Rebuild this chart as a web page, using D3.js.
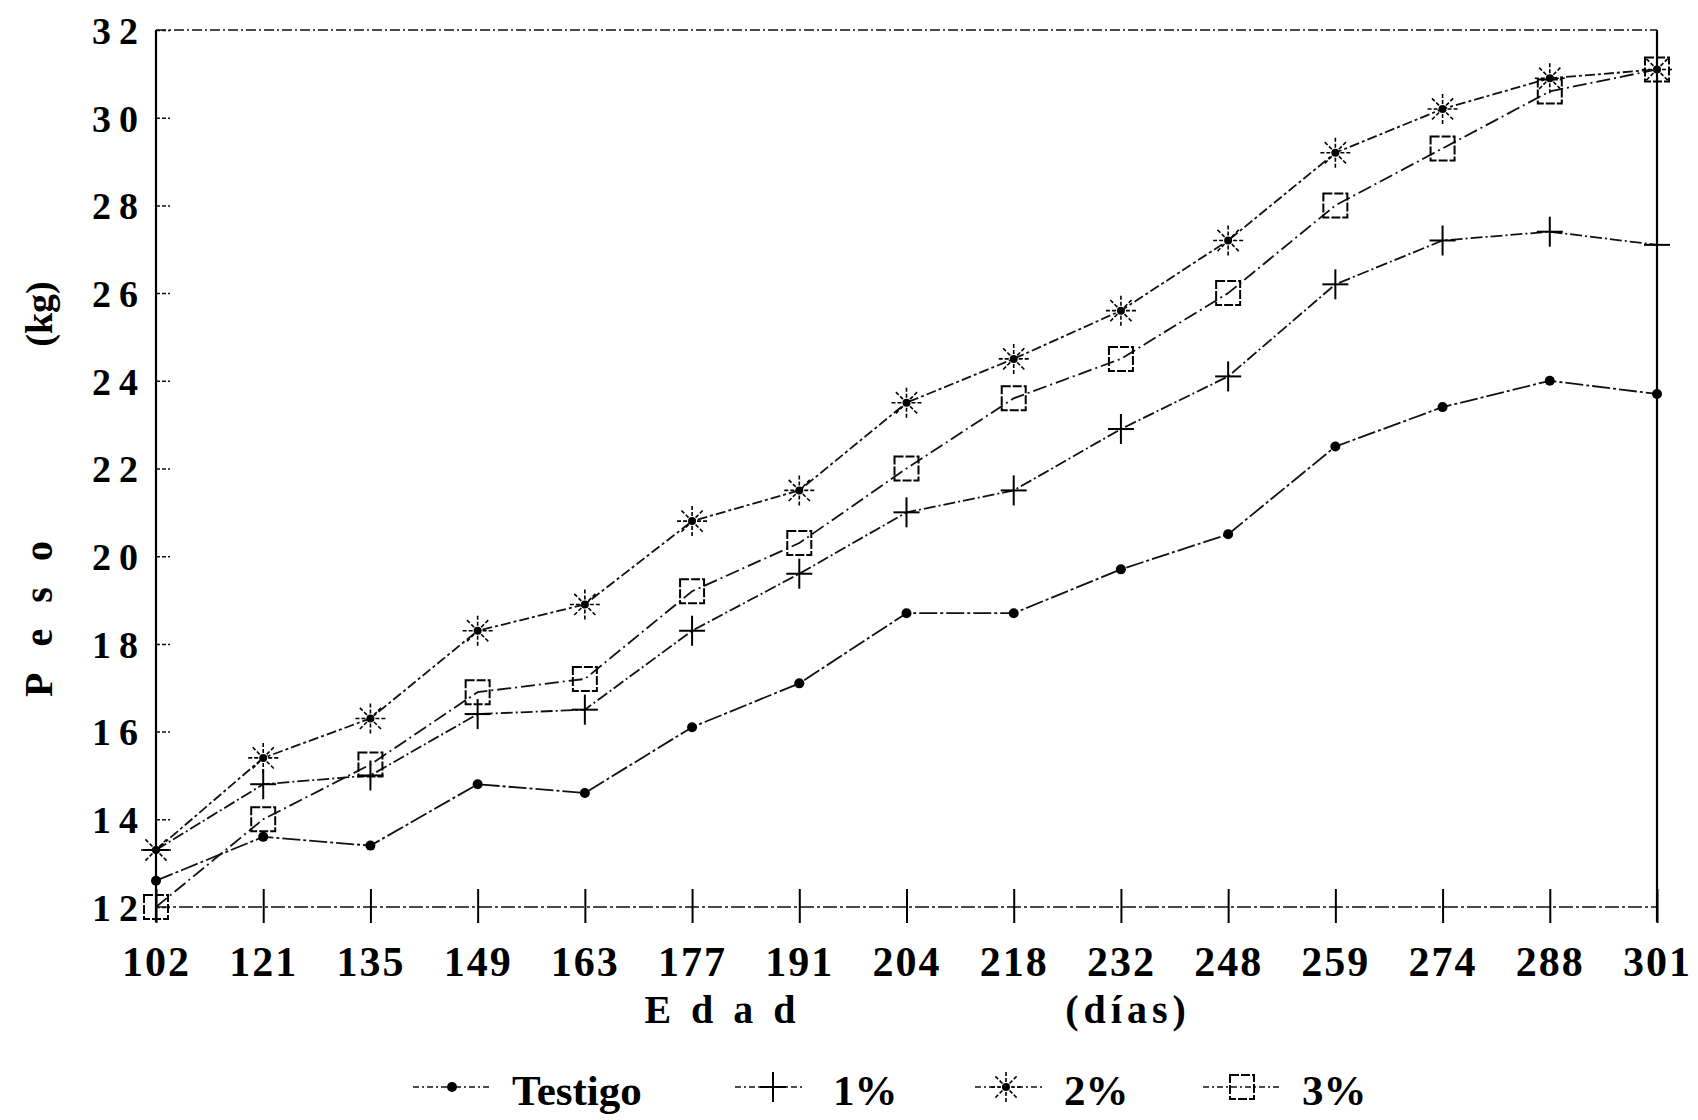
<!DOCTYPE html>
<html>
<head>
<meta charset="utf-8">
<script src="https://cdn.jsdelivr.net/npm/d3@7"></script>
<style>
  body { margin: 0; background: #fff; }
  svg { display: block; }
  text { font-family: "Liberation Serif", "DejaVu Serif", serif; font-weight: bold; fill: #000; }
</style>
</head>
<body>
<svg width="1698" height="1120"></svg>
<script>
// Edad (dias) on the x axis
var ages = ["102", "121", "135", "149", "163", "177", "191", "204", "218", "232", "248", "259", "274", "288", "301"];
var yTicks = [12, 14, 16, 18, 20, 22, 24, 26, 28, 30, 32];

// Peso (kg) per treatment
var testigo = [12.6, 13.6, 13.4, 14.8, 14.6, 16.1, 17.1, 18.7, 18.7, 19.7, 20.5, 22.5, 23.4, 24.0, 23.7];
var pct1    = [13.3, 14.8, 15.0, 16.4, 16.5, 18.3, 19.6, 21.0, 21.5, 22.9, 24.1, 26.2, 27.2, 27.4, 27.1];
var pct2    = [13.3, 15.4, 16.3, 18.3, 18.9, 20.8, 21.5, 23.5, 24.5, 25.6, 27.2, 29.2, 30.2, 30.9, 31.1];
var pct3    = [12.0, 14.0, 15.25, 16.9, 17.2, 19.2, 20.3, 22.0, 23.6, 24.5, 26.0, 28.0, 29.3, 30.6, 31.1];

var seriesNames = ["Testigo", "1%", "2%", "3%"];

var series = [
  {name: seriesNames[0], values: testigo, marker: "dot",    dash: "18,3,3,3"},
  {name: seriesNames[1], values: pct1,    marker: "plus",   dash: "12,3,2,3"},
  {name: seriesNames[2], values: pct2,    marker: "star",   dash: "10,3,3,3"},
  {name: seriesNames[3], values: pct3,    marker: "square", dash: "14,4,2,4"}
];

var svg = d3.select("svg"),
    plot = {left: 156, right: 1657, top: 30, bottom: 907};

var x = d3.scalePoint().domain(ages).range([plot.left, plot.right]);
var y = d3.scaleLinear().domain([12, 32]).range([plot.bottom, plot.top]);

// frame: top border dotted, left and right borders solid
svg.append("line")
    .attr("x1", plot.left).attr("x2", plot.right).attr("y1", plot.top).attr("y2", plot.top)
    .attr("stroke", "#111").attr("stroke-width", 1.5)
    .attr("stroke-dasharray", "10,3,2,3");
svg.append("line")
    .attr("x1", plot.right).attr("x2", plot.right).attr("y1", plot.top).attr("y2", plot.bottom + 15)
    .attr("stroke", "#000").attr("stroke-width", 2.2);
svg.append("line")
    .attr("x1", plot.left).attr("x2", plot.left).attr("y1", plot.top).attr("y2", plot.bottom + 15)
    .attr("stroke", "#000").attr("stroke-width", 2.2);
// bottom axis line (dash-dot)
svg.append("line")
    .attr("x1", plot.left).attr("x2", plot.right).attr("y1", plot.bottom).attr("y2", plot.bottom)
    .attr("stroke", "#111").attr("stroke-width", 1.6)
    .attr("stroke-dasharray", "14,3,3,3");

// X axis
var xAxis = svg.append("g")
    .attr("transform", "translate(0," + plot.bottom + ")")
    .call(d3.axisBottom(x).tickSize(0));
xAxis.select(".domain").remove();
xAxis.selectAll(".tick line")
    .attr("y1", -18).attr("y2", 16)
    .attr("stroke", "#000").attr("stroke-width", 2);
xAxis.selectAll(".tick text")
    .attr("y", 69).attr("dy", 0)
    .style("font-size", "42px")
    .style("letter-spacing", "2px")
    .style("font-family", "Liberation Serif")
    .style("font-weight", "bold");

// Y axis (ticks pointing inwards)
var yAxis = svg.append("g")
    .attr("transform", "translate(" + plot.left + ",0)")
    .call(d3.axisLeft(y).tickValues(yTicks).tickSize(-14).tickPadding(10));
yAxis.select(".domain").remove();
yAxis.selectAll(".tick line")
    .attr("stroke", "#111").attr("stroke-width", 1.5)
    .attr("stroke-dasharray", "4,2");
yAxis.selectAll(".tick text")
    .attr("dy", "0.35em")
    .style("font-size", "38px")
    .style("letter-spacing", "8px")
    .style("font-family", "Liberation Serif")
    .style("font-weight", "bold");

// axis titles
svg.append("text")
    .attr("x", 730).attr("y", 1023)
    .attr("text-anchor", "middle")
    .style("font-size", "40px").style("letter-spacing", "20px")
    .text("Edad");
svg.append("text")
    .attr("x", 1128).attr("y", 1023)
    .attr("text-anchor", "middle")
    .style("font-size", "40px").style("letter-spacing", "5px")
    .text("(días)");
svg.append("text")
    .attr("transform", "translate(52,606) rotate(-90)")
    .attr("text-anchor", "middle")
    .style("font-size", "40px").style("letter-spacing", "26px")
    .text("Peso");
svg.append("text")
    .attr("transform", "translate(52,314) rotate(-90)")
    .attr("text-anchor", "middle")
    .style("font-size", "38px")
    .text("(kg)");

// marker drawing
function drawMarker(g, type) {
  if (type == "dot") {
    g.append("circle").attr("r", 5).attr("fill", "#000");
  } else if (type == "plus") {
    g.append("line").attr("x1", 0).attr("x2", 0).attr("y1", -15).attr("y2", 15)
        .attr("stroke", "#000").attr("stroke-width", 2);
    g.append("line").attr("x1", -13).attr("x2", 13).attr("y1", 0).attr("y2", 0)
        .attr("stroke", "#000").attr("stroke-width", 2);
  } else if (type == "star") {
    g.append("circle").attr("r", 4).attr("fill", "#000");
    d3.range(8).forEach(function(i) {
      var a = i * Math.PI / 4;
      g.append("line")
          .attr("x1", 5 * Math.cos(a)).attr("y1", 5 * Math.sin(a))
          .attr("x2", 15 * Math.cos(a)).attr("y2", 15 * Math.sin(a))
          .attr("stroke", "#000").attr("stroke-width", 1.6)
          .attr("stroke-dasharray", "4,2");
    });
  } else if (type == "square") {
    g.append("rect").attr("x", -12).attr("y", -12).attr("width", 24).attr("height", 24)
        .attr("fill", "none").attr("stroke", "#000").attr("stroke-width", 2)
        .attr("stroke-dasharray", "9,2");
  }
}

var line = d3.line()
    .x(function(d, i) { return x(ages[i]); })
    .y(function(d) { return y(d); });

series.forEach(function(s) {
  svg.append("path")
      .datum(s.values)
      .attr("fill", "none")
      .attr("stroke", "#111")
      .attr("stroke-width", 1.8)
      .attr("stroke-dasharray", s.dash)
      .attr("d", line);

  svg.selectAll(".m-" + s.marker)
      .data(s.values)
    .enter().append("g")
      .attr("class", "m-" + s.marker)
      .attr("transform", function(d, i) { return "translate(" + x(ages[i]) + "," + y(d) + ")"; })
      .each(function() { drawMarker(d3.select(this), s.marker); });
});

// legend
var legendY = 1087;
var legendItems = [
  {x1: 413, x2: 490, mx: 452, tx: 512},
  {x1: 735, x2: 805, mx: 773, tx: 833},
  {x1: 975, x2: 1045, mx: 1006, tx: 1064},
  {x1: 1203, x2: 1282, mx: 1242, tx: 1302}
];
series.forEach(function(s, i) {
  var it = legendItems[i];
  svg.append("line")
      .attr("x1", it.x1).attr("x2", it.x2).attr("y1", legendY).attr("y2", legendY)
      .attr("stroke", "#111").attr("stroke-width", 1.7)
      .attr("stroke-dasharray", "6,3,2,3");
  drawMarker(svg.append("g").attr("transform", "translate(" + it.mx + "," + legendY + ")"), s.marker);
  svg.append("text")
      .attr("x", it.tx).attr("y", 1105)
      .style("font-size", "43px")
      .text(s.name);
});
</script>
</body>
</html>
